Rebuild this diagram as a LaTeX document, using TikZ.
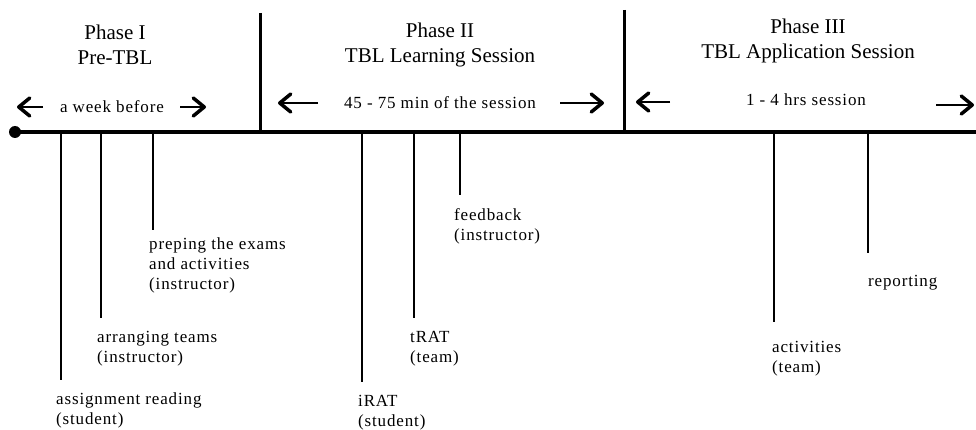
\documentclass[tikz,border=0pt]{standalone}
\usepackage{fontspec}
\setmainfont{Liberation Serif}
\newfontfamily\labfont[LetterSpace=5]{Liberation Serif}
\usetikzlibrary{arrows.meta}
\begin{document}
\begin{tikzpicture}[x=1pt,y=-1pt,
  axis/.style={line width=4pt},
  divider/.style={line width=3pt},
  tick/.style={line width=2pt},
  span/.style={line width=2.6pt,-{Straight Barb[length=11pt,width=18pt,line width=3.5pt,round]}},
  title/.style={align=center,inner sep=0pt,font=\fontsize{21}{25}\selectfont},
  dur/.style={inner sep=0pt,font=\labfont\fontsize{17}{20}\selectfont},
  lab/.style={align=left,anchor=north west,inner sep=0pt,font=\labfont\fontsize{17}{20}\selectfont}]
\useasboundingbox (0,0) rectangle (976,430);
% timeline
\coordinate (start) at (15,132);
\coordinate (end) at (976,132);
\fill (start) circle (6);
\draw[axis] (start) -- (end);
% dividers
\coordinate (d1t) at (260,13); \coordinate (d1b) at (260,132);
\coordinate (d2t) at (624,10); \coordinate (d2b) at (624,132);
\draw[divider] (d1t) -- (d1b);
\draw[divider] (d2t) -- (d2b);
% phase titles
\node[title] (p1) at (115,45) {Phase I\\Pre-TBL};
\node[title] (p2) at (440,45) {Phase II\\TBL Learning Session};
\node[title] (p3) at (808,41) {Phase III\\TBL Application Session};
% durations
\node[dur] (w1) at (112,107) {a week before};
\node[dur] (w2) at (440,103) {45 - 75 min of the session};
\node[dur] (w3) at (806,100) {1 - 4 hrs session};
% arrows
\coordinate (a1l) at (17,107);  \coordinate (a1lt) at (43,107);
\coordinate (a1r) at (206,107); \coordinate (a1rt) at (180,107);
\coordinate (a2l) at (278,103); \coordinate (a2lt) at (318,103);
\coordinate (a2r) at (604,103); \coordinate (a2rt) at (560,103);
\coordinate (a3l) at (636,102); \coordinate (a3lt) at (670,102);
\coordinate (a3r) at (974,105); \coordinate (a3rt) at (936,105);
\draw[span] (a1lt) -- (a1l);
\draw[span] (a1rt) -- (a1r);
\draw[span] (a2lt) -- (a2l);
\draw[span] (a2rt) -- (a2r);
\draw[span] (a3lt) -- (a3l);
\draw[span] (a3rt) -- (a3r);
% ticks
\foreach \n/\x/\yb in {t1/61/380, t2/101/318, t3/153/230, t4/362/382, t5/414/318, t6/460/195, t7/774/322, t8/868/253}{
  \coordinate (\n a) at (\x,132);
  \coordinate (\n b) at (\x,\yb);
  \draw[tick] (\n a) -- (\n b);
}
% labels
\node[lab] (l1) at (56,393) {assignment reading\\(student)};
\node[lab] (l2) at (97,331) {arranging teams\\(instructor)};
\node[lab] (l3) at (149,238) {preping the exams\\and activities\\(instructor)};
\node[lab] (l4) at (358,395) {iRAT\\(student)};
\node[lab] (l5) at (410,331) {tRAT\\(team)};
\node[lab] (l6) at (454,208) {feedback\\(instructor)};
\node[lab] (l7) at (772,341) {activities\\(team)};
\node[lab] (l8) at (868,275) {reporting};
\end{tikzpicture}
\end{document}
